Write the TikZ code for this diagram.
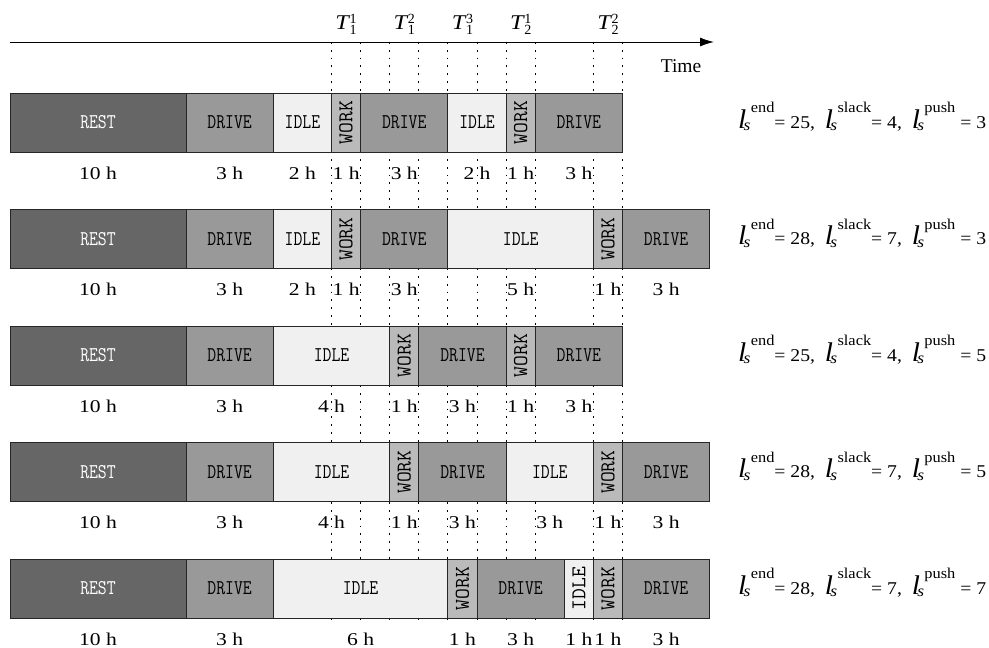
\documentclass[tikz,border=0pt]{standalone}
\usepackage{fontspec}
\setmainfont{Liberation Serif}
\usepackage{graphicx}
\usetikzlibrary{arrows.meta}
\newcommand\bt[1]{\scalebox{0.82}[1]{\fontsize{21}{24}\selectfont\ttfamily #1}}
\newcommand\vt[1]{\rotatebox{90}{\fontsize{21}{24}\selectfont\ttfamily #1}}
\newcommand\rtop{93}
\newcommand\seg[6]{%
  \pgfmathsetmacro\segx{186+29.1*#2}%
  \pgfmathsetmacro\segw{29.1*(#3-#2)}%
  \node[segbox,#4,minimum width=\segw pt,anchor=north west] (#1) at (\segx,\rtop) {#5};
  \node[hlab,anchor=base] (#1-h) at ([yshift=-27pt]#1.south) {\scalebox{1.2}[1]{#6}};}
\newcommand\restseg[1]{%
  \node[segbox,rest,minimum width=176pt,anchor=north west] (#1) at (10,\rtop) {\bt{REST}};
  \node[hlab,anchor=base] (#1-h) at ([yshift=-27pt]#1.south) {\scalebox{1.2}[1]{10 h}};}
\newcommand\lsym[1]{{\fontsize{27}{30}\selectfont\itshape l}\kern-2.5pt\raisebox{-2.5pt}{\fontsize{16}{16}\selectfont\itshape s}\kern0.3pt\raisebox{15.5pt}{\fontsize{15}{16}\selectfont #1}}
\newcommand\lvals[4]{%
  \node[hlab,anchor=base west] (#1) at (738,{\rtop+35}) {\resizebox{248pt}{\height}{\lsym{end}= #2,\hspace{9pt}\lsym{slack}= #3,\hspace{9pt}\lsym{push} = #4}};}
\newcommand\tsym[2]{\scalebox{1.15}[1]{\fontsize{21}{22}\selectfont\itshape T}\kern0.8pt\rlap{\raisebox{6pt}{\fontsize{14}{14}\selectfont #1}}\raisebox{-5pt}{\fontsize{14}{14}\selectfont #2}}
\begin{document}
\begin{tikzpicture}[x=1pt,y=-1pt,
  segbox/.style={draw=black!85,line width=0.9pt,minimum height=59pt,inner sep=0pt,outer sep=0pt},
  rest/.style={fill=black!60,text=white},
  drive/.style={fill=black!40},
  idle/.style={fill=black!6},
  work/.style={fill=black!27},
  hlab/.style={font=\fontsize{18}{20}\selectfont,inner sep=0pt},
  tlab/.style={inner sep=0pt},
  dotline/.style={line width=1pt,dash pattern=on 1.8pt off 6pt},
  axisline/.style={line width=1pt,-{Latex[length=14pt,width=9pt]}}]
\useasboundingbox (0,0) rectangle (989,648);
% time windows
\foreach \h in {5,6,7,8,9,10,11,12,14,15}
  \draw[dotline] ({186+29.1*\h},42) -- ({186+29.1*\h},620);
% axis
\coordinate (ax0) at (10,42);
\coordinate (ax1) at (714,42);
\draw[axisline] (ax0) -- (ax1);
\node[tlab,font=\fontsize{19.5}{22}\selectfont,anchor=base] (time) at (681,72) {Time};
\node[tlab,anchor=base] (t11) at ({186+29.1*5.5},29.3) {\tsym{1}{1}};
\node[tlab,anchor=base] (t12) at ({186+29.1*7.5},29.3) {\tsym{2}{1}};
\node[tlab,anchor=base] (t13) at ({186+29.1*9.5},29.3) {\tsym{3}{1}};
\node[tlab,anchor=base] (t21) at ({186+29.1*11.5},29.3) {\tsym{1}{2}};
\node[tlab,anchor=base] (t22) at ({186+29.1*14.5},29.3) {\tsym{2}{2}};
% row 1
\renewcommand\rtop{93}
\restseg{ar}
\seg{aa}{0}{3}{drive}{\bt{DRIVE}}{3 h}
\seg{ab}{3}{5}{idle}{\bt{IDLE}}{2 h}
\seg{ac}{5}{6}{work}{\vt{WORK}}{1 h}
\seg{ad}{6}{9}{drive}{\bt{DRIVE}}{3 h}
\seg{ae}{9}{11}{idle}{\bt{IDLE}}{2 h}
\seg{af}{11}{12}{work}{\vt{WORK}}{1 h}
\seg{ag}{12}{15}{drive}{\bt{DRIVE}}{3 h}
\lvals{al}{25}{4}{3}
% row 2
\renewcommand\rtop{209.5}
\restseg{br}
\seg{ba}{0}{3}{drive}{\bt{DRIVE}}{3 h}
\seg{bb}{3}{5}{idle}{\bt{IDLE}}{2 h}
\seg{bc}{5}{6}{work}{\vt{WORK}}{1 h}
\seg{bd}{6}{9}{drive}{\bt{DRIVE}}{3 h}
\seg{be}{9}{14}{idle}{\bt{IDLE}}{5 h}
\seg{bf}{14}{15}{work}{\vt{WORK}}{1 h}
\seg{bg}{15}{18}{drive}{\bt{DRIVE}}{3 h}
\lvals{bl}{28}{7}{3}
% row 3
\renewcommand\rtop{326}
\restseg{cr}
\seg{ca}{0}{3}{drive}{\bt{DRIVE}}{3 h}
\seg{cb}{3}{7}{idle}{\bt{IDLE}}{4 h}
\seg{cc}{7}{8}{work}{\vt{WORK}}{1 h}
\seg{cd}{8}{11}{drive}{\bt{DRIVE}}{3 h}
\seg{ce}{11}{12}{work}{\vt{WORK}}{1 h}
\seg{cf}{12}{15}{drive}{\bt{DRIVE}}{3 h}
\lvals{cl}{25}{4}{5}
% row 4
\renewcommand\rtop{442.5}
\restseg{dr}
\seg{da}{0}{3}{drive}{\bt{DRIVE}}{3 h}
\seg{db}{3}{7}{idle}{\bt{IDLE}}{4 h}
\seg{dc}{7}{8}{work}{\vt{WORK}}{1 h}
\seg{dd}{8}{11}{drive}{\bt{DRIVE}}{3 h}
\seg{de}{11}{14}{idle}{\bt{IDLE}}{3 h}
\seg{df}{14}{15}{work}{\vt{WORK}}{1 h}
\seg{dg}{15}{18}{drive}{\bt{DRIVE}}{3 h}
\lvals{dl}{28}{7}{5}
% row 5
\renewcommand\rtop{559}
\restseg{er}
\seg{ea}{0}{3}{drive}{\bt{DRIVE}}{3 h}
\seg{eb}{3}{9}{idle}{\bt{IDLE}}{6 h}
\seg{ec}{9}{10}{work}{\vt{WORK}}{1 h}
\seg{ed}{10}{13}{drive}{\bt{DRIVE}}{3 h}
\seg{ee}{13}{14}{idle}{\vt{IDLE}}{1 h}
\seg{ef}{14}{15}{work}{\vt{WORK}}{1 h}
\seg{eg}{15}{18}{drive}{\bt{DRIVE}}{3 h}
\lvals{el}{28}{7}{7}
\end{tikzpicture}
\end{document}
